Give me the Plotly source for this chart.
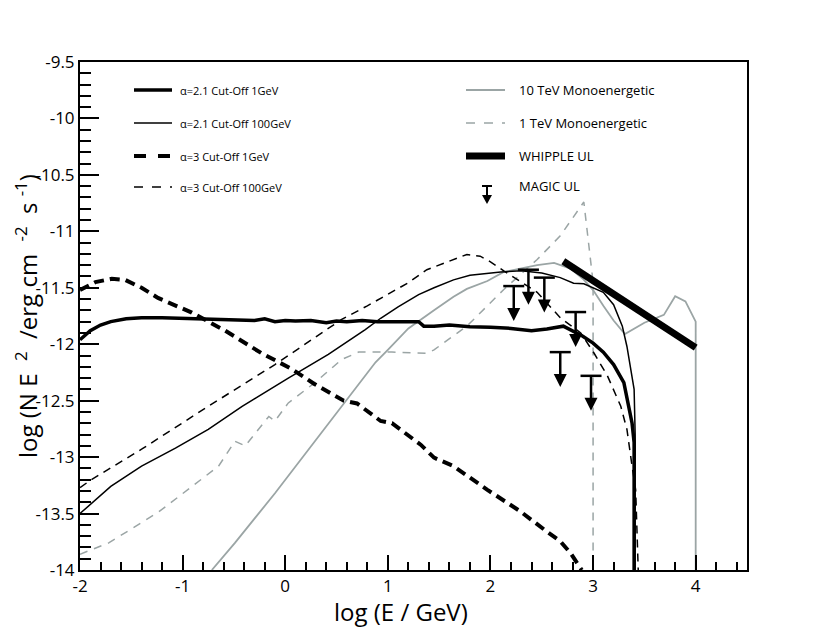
import plotly.graph_objects as go

# ---------------- data (log E [GeV], log E^2 dN/dE [erg cm^-2 s^-1]) ----------------
a21_1gev_x = [-2.0, -1.9, -1.8, -1.7, -1.55, -1.4, -1.2, -1.0, -0.8, -0.6, -0.45, -0.3, -0.2,
              -0.1, 0.0, 0.1, 0.25, 0.4, 0.5, 0.6, 0.75, 0.9, 1.1, 1.3, 1.35, 1.45, 1.6, 1.8,
              2.0, 2.2, 2.4, 2.55, 2.71, 2.8, 2.9, 3.0, 3.1, 3.2, 3.3, 3.38, 3.40, 3.40]
a21_1gev_y = [-11.96, -11.88, -11.83, -11.80, -11.775, -11.765, -11.765, -11.77, -11.78, -11.785,
              -11.79, -11.79, -11.775, -11.80, -11.79, -11.795, -11.79, -11.81, -11.795, -11.80,
              -11.79, -11.80, -11.80, -11.80, -11.84, -11.84, -11.83, -11.845, -11.85, -11.86,
              -11.88, -11.865, -11.84, -11.88, -11.93, -11.99, -12.07, -12.18, -12.34, -12.70,
              -12.87, -14.0]

a21_100gev_x = [-2.0, -1.7, -1.4, -1.07, -0.75, -0.42, 0.03, 0.42, 0.78, 0.93, 1.1, 1.3, 1.45,
                1.64, 1.8, 1.97, 2.1, 2.3, 2.5, 2.68, 2.81, 2.91, 3.1, 3.2, 3.285, 3.33, 3.40,
                3.41, 3.41]
a21_100gev_y = [-13.5, -13.26, -13.08, -12.92, -12.755, -12.55, -12.30, -12.09, -11.87, -11.77,
                -11.67, -11.56, -11.50, -11.43, -11.39, -11.37, -11.36, -11.35, -11.37, -11.41,
                -11.46, -11.465, -11.54, -11.65, -11.84, -12.02, -12.40, -12.8, -14.0]

a3_1gev_x = [-2.0, -1.85, -1.69, -1.56, -1.4, -1.24, -0.91, -0.585, -0.23, 0.065, 0.28, 0.57,
             0.70, 0.93, 1.04, 1.32, 1.45, 1.64, 1.97, 2.29, 2.55, 2.68, 2.78, 2.86, 2.89]
a3_1gev_y = [-11.52, -11.45, -11.42, -11.43, -11.50, -11.59, -11.72, -11.88, -12.08, -12.22,
             -12.35, -12.50, -12.525, -12.68, -12.70, -12.89, -13.005, -13.08, -13.29, -13.48,
             -13.66, -13.745, -13.85, -13.955, -14.0]

a3_100gev_x = [-2.0, -1.89, -1.4, -0.75, -0.10, 0.55, 0.80, 1.20, 1.38, 1.6, 1.77, 1.90, 2.0,
               2.13, 2.455, 2.68, 2.88, 3.01, 3.14, 3.27, 3.33, 3.38, 3.415, 3.44]
a3_100gev_y = [-13.27, -13.20, -12.93, -12.55, -12.18, -11.78, -11.66, -11.455, -11.34, -11.26,
               -11.205, -11.22, -11.27, -11.35, -11.54, -11.765, -11.90, -12.08, -12.28, -12.55,
               -12.755, -13.08, -13.29, -14.0]

mono10_x = [-0.715, -0.49, -0.10, 0.23, 0.55, 0.88, 1.0, 1.2, 1.45, 1.64, 1.77, 1.97, 2.13,
            2.3, 2.455, 2.62, 2.78, 2.9, 3.0, 3.1, 3.2, 3.31, 3.5, 3.69, 3.80, 3.90, 4.00, 4.00]
mono10_y = [-14.0, -13.76, -13.32, -12.93, -12.55, -12.16, -12.05, -11.86, -11.70, -11.58,
            -11.51, -11.44, -11.36, -11.33, -11.30, -11.28, -11.33, -11.42, -11.52, -11.66,
            -11.79, -11.91, -11.81, -11.74, -11.575, -11.62, -11.80, -14.0]

mono1_x = [-2.0, -1.72, -1.24, -0.91, -0.65, -0.49, -0.39, -0.16, -0.10, 0.03, 0.29, 0.55,
           0.715, 1.04, 1.38, 1.45, 1.77, 2.13, 2.455, 2.68, 2.91, 3.0, 3.0]
mono1_y = [-13.86, -13.76, -13.49, -13.26, -13.08, -12.86, -12.90, -12.64, -12.68, -12.52,
           -12.34, -12.135, -12.07, -12.07, -12.08, -12.05, -11.84, -11.515, -11.25, -11.04,
           -10.74, -11.45, -14.0]

whipple_x = [2.71, 4.0]
whipple_y = [-11.265, -12.03]

magic_x = [2.227, 2.37, 2.525, 2.68, 2.83, 2.98]
magic_ul = [-11.485, -11.34, -11.41, -12.07, -11.715, -12.28]

x_tick_vals = [-2, -1, 0, 1, 2, 3, 4]
x_tick_labels = ["-2", "-1", "0", "1", "2", "3", "4"]
y_tick_vals = [-14, -13.5, -13, -12.5, -12, -11.5, -11, -10.5, -10, -9.5]
y_tick_labels = ["-14", "-13.5", "-13", "-12.5", "-12", "-11.5", "-11", "-10.5", "-10", "-9.5"]

# ---------------- styling ----------------
GRAY = "#9ba5a5"
FONT = "Open Sans"
ARROW_LEN = 0.31  # length of the upper-limit arrows (data units)
PAGE_OFF = 8      # the page body offsets the figure by this many pixels

fig = go.Figure()


def add_curve(x, y, color, width, dash=None):
    fig.add_trace(go.Scatter(x=x, y=y, mode="lines",
                             line=dict(color=color, width=width, dash=dash),
                             showlegend=False, hoverinfo="skip"))


add_curve(mono10_x, mono10_y, GRAY, 1.8)
add_curve(mono1_x, mono1_y, GRAY, 1.5, "8px,7px")
add_curve(a3_1gev_x, a3_1gev_y, "black", 4, "10px,6px")
add_curve(a3_100gev_x, a3_100gev_y, "black", 1.5, "8px,6px")
add_curve(a21_100gev_x, a21_100gev_y, "black", 1.5)
add_curve(a21_1gev_x, a21_1gev_y, "black", 3.5)
add_curve(whipple_x, whipple_y, "black", 7)

# MAGIC upper limits: cap, stem, arrow head
stem_x, stem_y = [], []
for xv, yv in zip(magic_x, magic_ul):
    stem_x += [xv, xv, None]
    stem_y += [yv, yv - ARROW_LEN + 0.06, None]
fig.add_trace(go.Scatter(x=stem_x, y=stem_y, mode="lines",
                         line=dict(color="black", width=2.5),
                         showlegend=False, hoverinfo="skip"))
fig.add_trace(go.Scatter(x=magic_x, y=magic_ul, mode="markers",
                         marker=dict(symbol="line-ew", size=15,
                                     line=dict(color="black", width=2.5)),
                         showlegend=False, hoverinfo="skip"))
fig.add_trace(go.Scatter(x=magic_x, y=[v - ARROW_LEN for v in magic_ul], mode="markers",
                         marker=dict(symbol="arrow-down", size=13, color="black",
                                     line=dict(width=0)),
                         showlegend=False, hoverinfo="skip"))

# ---------------- hand-drawn legend (paper coordinates) ----------------
# plot-area edges in screen pixels
L, R, T, B = 80, 747, 62, 570


def pxx(p):
    return (p - L) / (R - L)


def pxy(p):
    return (B - p) / (B - T)


shapes = []
annotations = []

left_items = [
    ("\u03b1=2.1 Cut-Off 1GeV", 3.5, None),
    ("\u03b1=2.1 Cut-Off 100GeV", 1.5, None),
    ("\u03b1=3 Cut-Off 1GeV", 4, "dash"),
    ("\u03b1=3 Cut-Off 100GeV", 1.5, "dash"),
]
rows = [90, 123, 156, 187]
for (label, w, dash), ry in zip(left_items, rows):
    shapes.append(dict(type="line", xref="paper", yref="paper",
                       x0=pxx(134), x1=pxx(172), y0=pxy(ry), y1=pxy(ry),
                       line=dict(color="black", width=w, dash=dash)))
    annotations.append(dict(xref="paper", yref="paper", x=pxx(178), y=pxy(ry),
                            xanchor="left", yanchor="middle", showarrow=False,
                            text=label, font=dict(family=FONT, size=11, color="black")))

right_items = [
    ("10 TeV Monoenergetic", GRAY, 1.8, None),
    ("1 TeV Monoenergetic", GRAY, 1.5, "dash"),
    ("WHIPPLE UL", "black", 7, None),
]
for (label, c, w, dash), ry in zip(right_items, rows[:3]):
    shapes.append(dict(type="line", xref="paper", yref="paper",
                       x0=pxx(466), x1=pxx(505), y0=pxy(ry), y1=pxy(ry),
                       line=dict(color=c, width=w, dash=dash)))
    annotations.append(dict(xref="paper", yref="paper", x=pxx(517), y=pxy(ry),
                            xanchor="left", yanchor="middle", showarrow=False,
                            text=label, font=dict(family=FONT, size=13, color="black")))

# MAGIC UL legend symbol
shapes.append(dict(type="line", xref="paper", yref="paper",
                   x0=pxx(482), x1=pxx(492), y0=pxy(186), y1=pxy(186),
                   line=dict(color="black", width=2)))
shapes.append(dict(type="line", xref="paper", yref="paper",
                   x0=pxx(487), x1=pxx(487), y0=pxy(186), y1=pxy(196),
                   line=dict(color="black", width=2)))
shapes.append(dict(type="path", xref="paper", yref="paper",
                   path="M %f,%f L %f,%f L %f,%f Z" % (pxx(482), pxy(195), pxx(492), pxy(195),
                                                       pxx(487), pxy(204)),
                   fillcolor="black", line=dict(color="black", width=0)))
annotations.append(dict(xref="paper", yref="paper", x=pxx(517), y=pxy(186),
                        xanchor="left", yanchor="middle", showarrow=False,
                        text="MAGIC UL", font=dict(family=FONT, size=13, color="black")))

# axis titles (placed as annotations to match their positions)
annotations.append(dict(xref="paper", yref="paper", x=pxx(26), y=pxy(316),
                        xanchor="center", yanchor="middle", showarrow=False, textangle=-90,
                        text="log (N E &nbsp;<sup>2</sup>&nbsp; /erg cm &nbsp;<sup>-2</sup>&nbsp; s <sup>-1</sup>)",
                        font=dict(family=FONT, size=24, color="black")))
annotations.append(dict(xref="paper", yref="paper", x=pxx(401), y=pxy(611),
                        xanchor="center", yanchor="middle", showarrow=False,
                        text="log (E / GeV)",
                        font=dict(family=FONT, size=24, color="black")))

axis_common = dict(showline=True, linecolor="black", linewidth=2, mirror=True,
                   showgrid=False, zeroline=False, ticks="inside", tickcolor="black",
                   tickwidth=2, tickfont=dict(family=FONT, size=17, color="black"))

W, H = 830 - PAGE_OFF, 635 - PAGE_OFF
fig.update_layout(
    width=W, height=H,
    margin=dict(l=L - PAGE_OFF, r=830 - R, t=T - PAGE_OFF, b=635 - B, autoexpand=False),
    paper_bgcolor="white", plot_bgcolor="white",
    showlegend=False,
    shapes=shapes, annotations=annotations,
    xaxis=dict(range=[-2, 4.5], tickvals=x_tick_vals, ticktext=x_tick_labels, ticklen=15,
               minor=dict(dtick=0.2, tick0=-2, ticks="inside", ticklen=8, tickwidth=1.5,
                          tickcolor="black"),
               **axis_common),
    yaxis=dict(range=[-14, -9.5], tickvals=y_tick_vals, ticktext=y_tick_labels, ticklen=19,
               minor=dict(dtick=0.1, tick0=-14, ticks="inside", ticklen=11, tickwidth=1.5,
                          tickcolor="black"),
               **axis_common),
)

fig.write_html("out.html")
